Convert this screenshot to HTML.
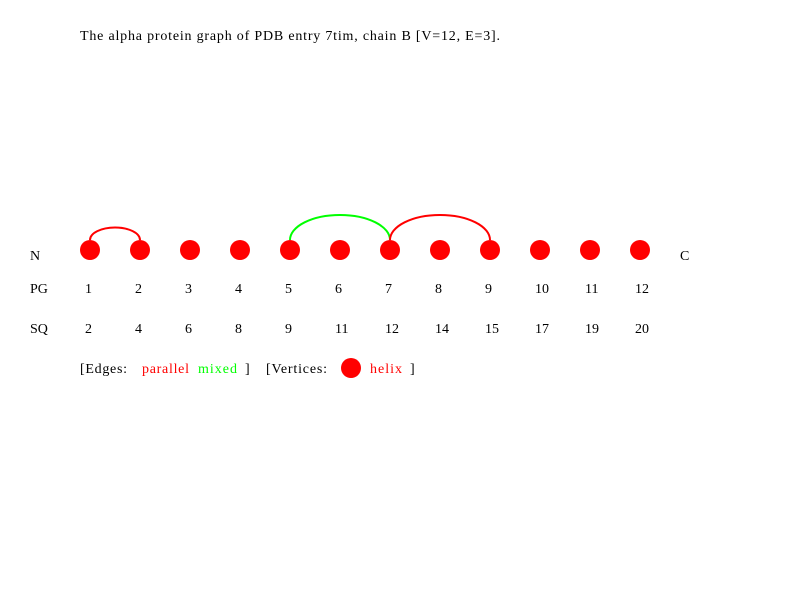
<!DOCTYPE html>
<html><head><meta charset="utf-8"><style>
body{margin:0;background:#fff}
svg{display:block;font-family:"Liberation Serif",serif;font-size:14px}
</style></head><body>
<svg width="800" height="600">
<text x="80" y="40" textLength="420" lengthAdjust="spacing">The alpha protein graph of PDB entry 7tim, chain B [V=12, E=3].</text>
<text x="30" y="260">N</text>
<text x="680" y="260">C</text>
<text x="30" y="293">PG</text>
<text x="30" y="333">SQ</text>
<g id="edges"></g><g id="verts"></g>
<g>
<text x="80" y="373" textLength="47">[Edges:</text>
<text x="142" y="373" textLength="47" fill="#ff0000">parallel</text>
<text x="198" y="373" textLength="39" fill="#00ff00">mixed</text>
<text x="245" y="373">]</text>
<text x="266" y="373" textLength="61">[Vertices:</text>
<circle cx="351" cy="368" r="10" fill="#ff0000"/>
<text x="370" y="373" textLength="32" fill="#ff0000">helix</text>
<text x="410" y="373">]</text>
</g>
</svg>
<script>
const pgLabels=[1,2,3,4,5,6,7,8,9,10,11,12];
const sqLabels=[2,4,6,8,9,11,12,14,15,17,19,20];
const edgeFrom=[1,5,7];
const edgeTo=[2,7,9];
const edgeType=["parallel","mixed","parallel"];
const NS="http://www.w3.org/2000/svg";
const xPos=i=>90+50*(i-1);
const cy=250;
const colors={parallel:"#ff0000",mixed:"#00ff00"};
const eg=document.getElementById('edges'),vg=document.getElementById('verts'),svg=document.querySelector('svg');
edgeFrom.forEach((f,k)=>{
  const x1=xPos(f),x2=xPos(edgeTo[k]);const rx=(x2-x1)/2,ry=rx/2;
  const p=document.createElementNS(NS,'path');
  p.setAttribute('d',`M${x1},${cy-10} A${rx},${ry} 0 0 1 ${x2},${cy-10}`);
  p.setAttribute('fill','none');p.setAttribute('stroke',colors[edgeType[k]]);p.setAttribute('stroke-width','2');
  
  
  eg.appendChild(p);
});
pgLabels.forEach((pg,i)=>{
  const x=xPos(pg);
  const c=document.createElementNS(NS,'circle');
  c.setAttribute('cx',x);c.setAttribute('cy',cy);c.setAttribute('r',10);c.setAttribute('fill','#ff0000');
  
  
  vg.appendChild(c);
  const t=document.createElementNS(NS,'text');
  t.setAttribute('x',x-5);t.setAttribute('y',293);t.textContent=pg;
  
  
  svg.appendChild(t);
  const s=document.createElementNS(NS,'text');
  s.setAttribute('x',x-5);s.setAttribute('y',333);s.textContent=sqLabels[i];
  
  
  svg.appendChild(s);
});
</script>
</body></html>
